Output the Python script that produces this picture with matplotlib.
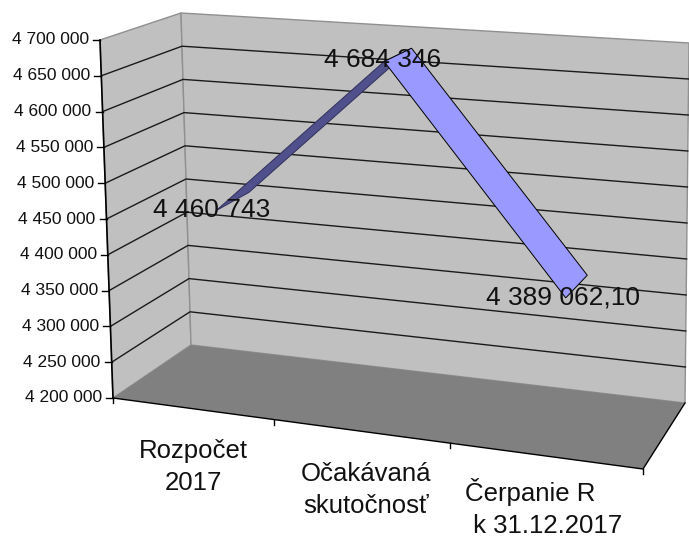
import numpy as np
import matplotlib
matplotlib.use("Agg")
import matplotlib.pyplot as plt

categorias = ["Rozpočet\n2017", "Očakávaná\nskutočnosť", "Čerpanie R    \n k 31.12.2017"]
valores = [4460743, 4684346, 4389062.10]
rotulos = ["4 460 743", "4 684 346", "4 389 062,10"]
ticks = [4200000, 4250000, 4300000, 4350000, 4400000, 4450000, 4500000, 4550000, 4600000, 4650000, 4700000]

V_MIN = ticks[0]
V_MAX = ticks[-1]

# cantos da caixa 3D em pixels: frente esq, frente dir, fundo dir, fundo esq
CHAO = [(113, 398), (643, 469), (685, 403), (191, 345)]
TETO = [(100, 40), (648, 74), (689, 43), (181, 13)]
D_FRENTE = 0.22
D_FUNDO = 0.66
# centro de cada categoria ao longo do eixo x da caixa
POS_U = [0.185, 0.505, 0.845]


def homografia(cantos):
    # quadrado unitario -> quadrilatero
    origem = [(0, 0), (1, 0), (1, 1), (0, 1)]
    A = []
    b = []
    for (u, d), (x, y) in zip(origem, cantos):
        A.append([u, d, 1, 0, 0, 0, -u * x, -d * x])
        A.append([0, 0, 0, u, d, 1, -u * y, -d * y])
        b += [x, y]
    h = np.linalg.solve(np.array(A, dtype=float), np.array(b, dtype=float))
    return np.append(h, 1).reshape(3, 3)


H_CHAO = homografia(CHAO)
H_TETO = homografia(TETO)


def projeta(u, d, valor):
    frac = (valor - V_MIN) / (V_MAX - V_MIN)
    p = np.array([u, d, 1.0])
    a = H_CHAO @ p
    b = H_TETO @ p
    a = a[:2] / a[2]
    b = b[:2] / b[2]
    return a + (b - a) * frac


plt.rcParams["font.family"] = ["Liberation Sans", "DejaVu Sans"]

fig = plt.figure(figsize=(6.89, 5.39), dpi=100)
ax = fig.add_axes([0, 0, 1, 1])
ax.set_xlim(0, 689)
ax.set_ylim(539, 0)
ax.axis("off")

# paredes e chao
parede_esq = [projeta(0, 0, V_MIN), projeta(0, 0, V_MAX), projeta(0, 1, V_MAX), projeta(0, 1, V_MIN)]
parede_fundo = [projeta(0, 1, V_MIN), projeta(0, 1, V_MAX), projeta(1, 1, V_MAX), projeta(1, 1, V_MIN)]
chao = [projeta(0, 0, V_MIN), projeta(1, 0, V_MIN), projeta(1, 1, V_MIN), projeta(0, 1, V_MIN)]
ax.add_patch(plt.Polygon(parede_esq, closed=True, fc="#C0C0C0", ec="#909090", lw=1))
ax.add_patch(plt.Polygon(parede_fundo, closed=True, fc="#C0C0C0", ec="#909090", lw=1))
ax.add_patch(plt.Polygon(chao, closed=True, fc="#808080", ec="none"))

# grade
for t in ticks[1:-1]:
    pts = np.array([projeta(0, 0, t), projeta(0, 1, t), projeta(1, 1, t)])
    ax.plot(pts[:, 0], pts[:, 1], color="#1a1a1a", lw=1)

# eixos
eixo = np.array([projeta(0, 0, V_MIN), projeta(0, 0, V_MAX)])
ax.plot(eixo[:, 0], eixo[:, 1], color="black", lw=1.2)
base = np.array([projeta(0, 0, V_MIN), projeta(1, 0, V_MIN), projeta(1, 1, V_MIN)])
ax.plot(base[:, 0], base[:, 1], color="black", lw=1)

for t in ticks:
    x, y = projeta(0, 0, t)
    ax.plot([x - 7, x], [y, y], color="black", lw=1)
    txt = f"{t:,}".replace(",", " ")
    ax.text(x - 11, y, txt, ha="right", va="center", fontsize=12.5, color="#111111")

n = len(categorias)
for i in range(n + 1):
    x, y = projeta(i / n, 0, V_MIN)
    ax.plot([x, x], [y, y + 5], color="black", lw=1)

# fitas da serie
cores = ["#50508C", "#9999FF"]
bordas = ["#30305C", "black"]
for i in range(n - 1):
    fita = [
        projeta(POS_U[i], D_FRENTE, valores[i]),
        projeta(POS_U[i], D_FUNDO, valores[i]),
        projeta(POS_U[i + 1], D_FUNDO, valores[i + 1]),
        projeta(POS_U[i + 1], D_FRENTE, valores[i + 1]),
    ]
    ax.add_patch(plt.Polygon(fita, closed=True, fc=cores[i], ec=bordas[i], lw=0.7, zorder=3))

# rotulos de dados
pos_rotulo = [(212, 210), (383, 60), (563, 297)]
for nome, (x, y) in zip(rotulos, pos_rotulo):
    ax.text(x, y, nome, ha="center", va="center", fontsize=19, color="#111111", zorder=4)

# categorias
pos_cat = [(193, 467), (366, 490), (544, 508)]
for nome, (x, y) in zip(categorias, pos_cat):
    ax.text(x, y, nome, ha="center", va="center", fontsize=18.5, color="#111111", linespacing=1.45)

fig.savefig("out.png", dpi=100)
